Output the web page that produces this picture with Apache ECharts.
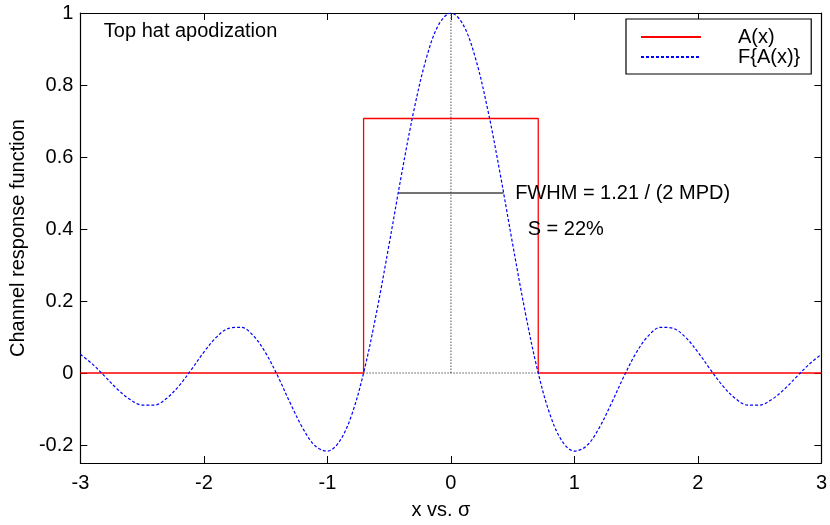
<!DOCTYPE html>
<html>
<head>
<meta charset="utf-8">
<script src="https://cdn.jsdelivr.net/npm/echarts@6/dist/echarts.min.js"></script>
<style>html,body{margin:0;padding:0;background:#fff;overflow:hidden}#c{width:830px;height:525px}</style>
</head>
<body>
<div id="c"></div>
<script>
// ---- data ----
const xTicks = [-3, -2, -1, 0, 1, 2, 3];
const yTicks = [-0.2, 0, 0.2, 0.4, 0.6, 0.8, 1];
// A(x): top hat
const topHatX = [-3, -0.707, -0.707, 0.707, 0.707, 3];
const topHatY = [0, 0, 0.707, 0.707, 0, 0];
// F{A(x)}: channel response (read every 0.1)
const respX = [-3.0,-2.9,-2.8,-2.7,-2.6,-2.5,-2.4,-2.3,-2.2,-2.1,-2.0,-1.9,-1.8,-1.7,-1.6,-1.5,-1.4,-1.3,-1.2,-1.1,-1.0,-0.9,-0.8,-0.7,-0.6,-0.5,-0.4,-0.3,-0.2,-0.1,0.0,0.1,0.2,0.3,0.4,0.5,0.6,0.7,0.8,0.9,1.0,1.1,1.2,1.3,1.4,1.5,1.6,1.7,1.8,1.9,2.0,2.1,2.2,2.3,2.4,2.5,2.6,2.7,2.8,2.9,3.0];
const respHalf = [1.0, 0.967, 0.873, 0.729, 0.551, 0.358, 0.172, 0.010, -0.113, -0.189, -0.217, -0.202, -0.153, -0.084, -0.010, 0.056, 0.104, 0.127, 0.124, 0.099, 0.058, 0.010, -0.035, -0.070, -0.089, -0.089, -0.073, -0.045, -0.010, 0.024, 0.052];
const respY = respHalf.slice(1).reverse().concat(respHalf);
// annotation lines
const centerLineX = [0, 0];
const centerLineY = [0, 1];
const baseLineX = [-0.707, 0.707];
const baseLineY = [0, 0];
const fwhmX = [-0.426, 0.426];
const fwhmY = [0.5, 0.5];
const legendNames = ['A(x)', 'F{A(x)}'];
const titleText = 'Top hat apodization';
const fwhmText = 'FWHM = 1.21 / (2 MPD)';
const sText = 'S = 22%';
const xName = 'x vs. σ';
const yName = 'Channel response function';

const zip = (xs, ys) => xs.map((x, i) => [x, ys[i]]);
const FONT = 'Liberation Sans, Arial, Helvetica, sans-serif';
const FS = 20;

const chart = echarts.init(document.getElementById('c'), null, {renderer: 'canvas', width: 830, height: 525});

const tickIn = {show: true, inside: true, length: 7, lineStyle: {color: '#000', width: 1}};
const axLine = {show: true, onZero: false, lineStyle: {color: '#000', width: 1.2}};

chart.setOption({
  animation: false,
  backgroundColor: '#fff',
  textStyle: {fontFamily: FONT},
  grid: {left: 79, right: 4, top: 13, bottom: 57, containLabel: false},
  xAxis: [{
    type: 'value', min: -3, max: 3, interval: 1,
    axisLine: axLine, axisTick: tickIn, splitLine: {show: false},
    axisLabel: {color: '#000', fontSize: FS, fontFamily: FONT, margin: 10},
    name: xName, nameLocation: 'middle', nameGap: 37,
    nameTextStyle: {color: '#000', fontSize: FS, fontFamily: FONT, padding: [0, 20, 0, 0]}
  }, {
    type: 'value', position: 'top', min: -3, max: 3, interval: 1,
    axisLine: axLine, axisTick: tickIn, axisLabel: {show: false}, splitLine: {show: false}
  }],
  yAxis: [{
    type: 'value', min: -0.25, max: 1,
    axisLine: axLine,
    axisTick: Object.assign({customValues: yTicks}, tickIn),
    axisLabel: {customValues: yTicks, color: '#000', fontSize: FS, fontFamily: FONT, margin: 7},
    splitLine: {show: false},
    name: yName, nameLocation: 'middle', nameGap: 48,
    nameTextStyle: {color: '#000', fontSize: FS, fontFamily: FONT}
  }, {
    type: 'value', position: 'right', min: -0.25, max: 1,
    axisLine: axLine,
    axisTick: Object.assign({customValues: yTicks}, tickIn),
    axisLabel: {show: false}, splitLine: {show: false}
  }],
  legend: {
    data: legendNames.map(n => ({name: n, itemStyle: {opacity: 0}})),
    orient: 'vertical', left: 626, top: 19,
    backgroundColor: '#fff', borderColor: '#000', borderWidth: 1.2, borderRadius: 0,
    padding: [8, 11, 7, 14], itemGap: 0, itemWidth: 60, itemHeight: 14,
    selectedMode: false,
    textStyle: {color: '#000', fontSize: FS, fontFamily: FONT, padding: [0, 0, 0, 32], lineHeight: 20}
  },
  series: [
    {
      name: 'A(x)', type: 'line', data: zip(topHatX, topHatY), symbol: 'none',
      lineStyle: {color: '#ff0000', width: 1.3}, itemStyle: {color: '#ff0000'}, z: 3
    },
    {
      name: 'center', type: 'line', data: zip(centerLineX, centerLineY), symbol: 'none',
      lineStyle: {color: '#777', width: 1.3, type: [1.5, 1.5]}, z: 2, silent: true
    },
    {
      name: 'base', type: 'line', data: zip(baseLineX, baseLineY), symbol: 'none',
      lineStyle: {color: '#000', width: 1, type: [1, 2]}, z: 2, silent: true
    },
    {
      name: 'fwhm', type: 'line', data: zip(fwhmX, fwhmY), symbol: 'none',
      lineStyle: {color: '#444', width: 1.5}, z: 2, silent: true
    },
    {
      name: 'F{A(x)}', type: 'line', data: zip(respX, respY), symbol: 'none', smooth: 0.35,
      lineStyle: {color: '#0000ff', width: 1.2, type: [3, 2]}, itemStyle: {color: '#0000ff'}, z: 4
    }
  ]
});

function place() {
  const p1 = chart.convertToPixel({xAxisIndex: 0, yAxisIndex: 0}, [-2.81, 0.95]);
  const p2 = chart.convertToPixel({xAxisIndex: 0, yAxisIndex: 0}, [0.52, 0.5]);
  const p3 = chart.convertToPixel({xAxisIndex: 0, yAxisIndex: 0}, [0.622, 0.40]);
  const ts = {fill: '#000', fontSize: FS, fontFamily: FONT, verticalAlign: 'middle'};
  chart.setOption({
    graphic: [
      {type: 'text', x: p1[0], y: p1[1], style: Object.assign({text: titleText}, ts), z: 10},
      {type: 'text', x: p2[0], y: p2[1], style: Object.assign({text: fwhmText}, ts), z: 10},
      {type: 'text', x: p3[0], y: p3[1], style: Object.assign({text: sText}, ts), z: 10}
    ]
  });
}
place();
</script>
</body>
</html>
